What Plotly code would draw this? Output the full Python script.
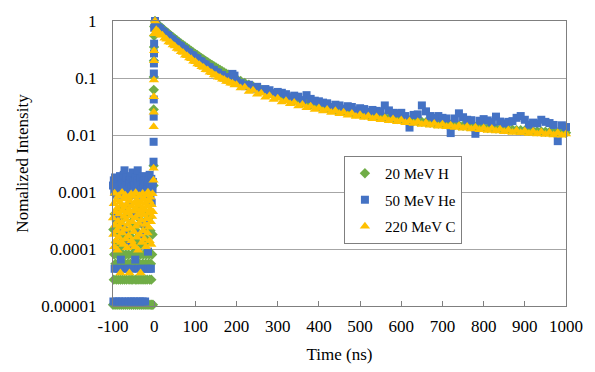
import plotly.graph_objects as go

# ---------------- data ----------------
# time grids (ns)
t_pre = list(range(-100, -2))                          # -100 ... -3, 1 ns steps
t_rise = [-1.6, -1.4, -1.2, -1.0, -0.8, -0.6, -0.4, -0.2, 0.0]
t_peak = [2]
t_tail = list(range(5, 201, 5)) + list(range(210, 1001, 10))

# 20 MeV H (green diamonds)
h_pre = [1.05e-5, 0.00022, 2.9e-5, 8e-5, 0.00041, 1.05e-5, 5.5e-5, 0.00013, 2.9e-5, 0.00031,
         1.05e-5, 8e-5, 0.00018, 2.9e-5, 5.5e-5, 1.05e-5, 0.00047, 8e-5, 2.9e-5, 0.00011,
         1.05e-5, 0.00026, 5.5e-5, 2.9e-5, 8e-5, 1.05e-5, 0.00015, 0.00036, 2.9e-5, 5.5e-5,
         1.05e-5, 8e-5, 0.00021, 2.9e-5, 0.00012, 1.05e-5, 5.5e-5, 0.00044, 8e-5, 2.9e-5,
         1.05e-5, 0.00017, 5.5e-5, 0.00029, 2.9e-5, 1.05e-5, 8e-5, 0.00011, 2.9e-5, 0.00038,
         1.05e-5, 5.5e-5, 8e-5, 0.00024, 2.9e-5, 1.05e-5, 0.00014, 5.5e-5, 2.9e-5, 0.00052,
         1.05e-5, 8e-5, 0.00019, 2.9e-5, 5.5e-5, 1.05e-5, 0.00033, 8e-5, 2.9e-5, 0.00012,
         1.05e-5, 0.00027, 5.5e-5, 2.9e-5, 8e-5, 1.05e-5, 0.00016, 0.00045, 2.9e-5, 5.5e-5,
         1.05e-5, 8e-5, 0.00023, 2.9e-5, 0.00013, 1.05e-5, 5.5e-5, 0.00035, 8e-5, 2.9e-5,
         1.05e-5, 0.00021, 5.5e-5, 2.9e-5, 1.05e-5, 8e-5, 0.00018, 1.05e-5]
h_rise = [0.0013, 0.0029, 0.028, 0.062, 0.104, 0.2, 0.35, 0.55, 0.8]
h_peak = [1.0]
h_tail = [0.92, 0.85, 0.79, 0.74, 0.69, 0.645, 0.60, 0.56, 0.525, 0.49,
          0.46, 0.43, 0.405, 0.38, 0.357, 0.336, 0.316, 0.298, 0.281, 0.265,
          0.25, 0.236, 0.223, 0.211, 0.2, 0.189, 0.179, 0.17, 0.161, 0.153,
          0.145, 0.138, 0.131, 0.125, 0.119, 0.114, 0.109, 0.104, 0.1, 0.096,
          0.089, 0.082, 0.076, 0.071, 0.066, 0.062, 0.058, 0.055, 0.052, 0.049,
          0.0465, 0.0443, 0.0423, 0.0404, 0.0387, 0.0371, 0.0356, 0.0343, 0.033, 0.0318,
          0.0307, 0.0297, 0.0287, 0.0278, 0.027, 0.0262, 0.0255, 0.0248, 0.0241, 0.0235,
          0.0229, 0.0223, 0.0218, 0.0213, 0.0208, 0.0203, 0.0199, 0.0195, 0.0191, 0.0187,
          0.0183, 0.018, 0.0176, 0.0173, 0.017, 0.0167, 0.0164, 0.0161, 0.0159, 0.0156,
          0.0154, 0.0151, 0.0149, 0.0147, 0.0145, 0.0143, 0.0141, 0.0139, 0.0137, 0.0135,
          0.0133, 0.0132, 0.013, 0.0128, 0.0127, 0.0125, 0.0124, 0.0122, 0.0121, 0.012,
          0.0118, 0.0117, 0.0116, 0.0115, 0.0114, 0.0113, 0.0112, 0.0111, 0.011, 0.0109]

# 50 MeV He (blue squares)
he_pre = [0.0013, 1.2e-5, 0.0016, 0.0010, 4.5e-5, 0.0018, 0.0011, 0.0014, 1.2e-5, 0.0009,
          0.0015, 0.00035, 0.0012, 4.5e-5, 0.0017, 1.2e-5, 0.0010, 0.0019, 0.0013, 6.5e-5,
          0.0011, 0.0016, 1.2e-5, 0.0014, 0.0009, 0.00022, 0.0020, 4.5e-5, 0.0024, 0.0012,
          1.2e-5, 0.0015, 0.0010, 0.0018, 0.00055, 0.0013, 4.5e-5, 0.0011, 1.2e-5, 0.0016,
          0.0009, 0.0014, 0.00012, 0.0019, 1.2e-5, 0.0012, 4.5e-5, 0.0017, 0.0022, 0.0010,
          0.0015, 1.2e-5, 0.0011, 0.0013, 6.5e-5, 0.0018, 0.0009, 0.00042, 1.2e-5, 0.0016,
          0.0024, 0.0012, 4.5e-5, 0.0014, 0.0010, 1.2e-5, 0.0017, 0.00018, 0.0013, 0.0011,
          4.5e-5, 0.0019, 1.2e-5, 0.0015, 0.0009, 0.0012, 0.00028, 0.0016, 1.2e-5, 0.0014,
          0.0010, 4.5e-5, 0.0018, 0.0013, 0.0011, 9e-5, 0.0016, 4.5e-5, 0.0012, 0.0020,
          0.0014, 0.0009, 4.5e-5, 0.0017, 0.00065, 0.0013, 0.0011, 0.0015]
he_rise = [0.0034, 0.0076, 0.021, 0.042, 0.12, 0.18, 0.27, 0.40, 0.76]
he_peak = [1.0]
he_tail = [0.86, 0.77, 0.73, 0.66, 0.63, 0.57, 0.545, 0.49, 0.47, 0.43,
           0.41, 0.375, 0.36, 0.328, 0.316, 0.288, 0.279, 0.253, 0.247, 0.225,
           0.218, 0.199, 0.194, 0.177, 0.172, 0.157, 0.154, 0.14, 0.138, 0.126,
           0.124, 0.113, 0.112, 0.103, 0.101, 0.095, 0.104, 0.118, 0.11, 0.088,
           0.081, 0.072, 0.076, 0.065, 0.07, 0.06, 0.064, 0.061, 0.054, 0.057,
           0.055, 0.052, 0.046, 0.049, 0.047, 0.041, 0.050, 0.043, 0.040, 0.039,
           0.037, 0.036, 0.031, 0.034, 0.033, 0.029, 0.032, 0.031, 0.027, 0.0295,
           0.0285, 0.0255, 0.0275, 0.0265, 0.026, 0.033, 0.027, 0.0245, 0.024, 0.0245,
           0.0215, 0.0135, 0.0225, 0.023, 0.033, 0.026, 0.0215, 0.020, 0.0215, 0.020,
           0.0195, 0.0108, 0.0195, 0.024, 0.0205, 0.0185, 0.0182, 0.0105, 0.0178, 0.019,
           0.018, 0.0168, 0.021, 0.0172, 0.016, 0.017, 0.0175, 0.020, 0.0215, 0.0185,
           0.0152, 0.0165, 0.016, 0.0185, 0.017, 0.0162, 0.015, 0.0078, 0.0148, 0.0138]

# 220 MeV C (yellow triangles)
c_pre = [0.00035, 0.00018, 0.00062, 0.00011, 0.00095, 0.00026, 0.00045, 0.00014, 0.00072, 0.00021,
         0.00052, 0.000095, 0.00031, 0.00085, 0.00016, 0.00041, 0.00024, 0.00066, 3.8e-5, 0.00013,
         0.00058, 0.00029, 0.00098, 0.00019, 0.00047, 0.00012, 0.00037, 0.00075, 0.00022, 0.00054,
         0.00088, 0.00015, 0.00033, 0.00061, 0.000105, 0.00043, 0.00027, 0.00079, 0.00017, 0.00049,
         3.8e-5, 0.00069, 0.00023, 0.00038, 0.00092, 0.00014, 0.00056, 0.00030, 0.00012, 0.00083,
         0.00046, 0.00020, 0.00064, 0.00011, 0.00035, 0.00097, 0.00025, 0.00051, 0.00016, 0.00072,
         0.00039, 0.000095, 0.00059, 0.00028, 0.00086, 0.00018, 0.00044, 3.8e-5, 0.00067, 0.00032,
         0.00013, 0.00053, 0.00094, 0.00021, 0.00040, 0.00076, 0.00015, 0.00048, 0.00027, 0.00063,
         0.00011, 0.00089, 0.00034, 0.00057, 0.00019, 0.00099, 0.00042, 0.00024, 0.00070, 0.00014,
         0.00050, 0.00081, 0.00030, 0.00012, 0.00060, 0.00037, 0.00093, 0.00045]
c_rise = [0.0016, 0.0026, 0.014, 0.025, 0.047, 0.092, 0.2, 0.30, 0.6]
c_peak = [1.0]
c_tail = [0.70, 0.65, 0.57, 0.56, 0.50, 0.48, 0.43, 0.42, 0.38, 0.365,
          0.33, 0.32, 0.29, 0.28, 0.25, 0.245, 0.225, 0.218, 0.197, 0.192,
          0.176, 0.171, 0.157, 0.153, 0.14, 0.138, 0.126, 0.124, 0.113, 0.112,
          0.103, 0.102, 0.095, 0.094, 0.087, 0.087, 0.081, 0.081, 0.075, 0.076,
          0.067, 0.069, 0.058, 0.061, 0.052, 0.054, 0.046, 0.049, 0.042, 0.044,
          0.038, 0.040, 0.0355, 0.037, 0.0322, 0.0342, 0.0301, 0.0318, 0.0281, 0.0297,
          0.0264, 0.0281, 0.0249, 0.0266, 0.0236, 0.0251, 0.0223, 0.0238, 0.0212, 0.0226,
          0.0203, 0.0216, 0.0193, 0.0207, 0.0185, 0.0198, 0.0178, 0.019, 0.017, 0.0183,
          0.0164, 0.0176, 0.0159, 0.017, 0.0153, 0.0164, 0.0148, 0.0159, 0.0143, 0.0154,
          0.0139, 0.0149, 0.0135, 0.0145, 0.0131, 0.0141, 0.0127, 0.0137, 0.0124, 0.0133,
          0.012, 0.013, 0.0117, 0.0126, 0.0114, 0.0123, 0.0111, 0.012, 0.0109, 0.0117,
          0.0106, 0.0115, 0.0104, 0.0113, 0.0102, 0.0111, 0.01, 0.0109, 0.0099, 0.0104]

series_names = ["20 MeV H", "50 MeV He", "220 MeV C"]
x_tickvals = [-100, 0, 100, 200, 300, 400, 500, 600, 700, 800, 900, 1000]
x_ticktext = ["-100", "0", "100", "200", "300", "400", "500", "600", "700", "800", "900", "1000"]
y_tickvals = [1e-5, 1e-4, 1e-3, 1e-2, 1e-1, 1]
y_ticktext = ["0.00001", "0.0001", "0.001", "0.01", "0.1", "1"]

# ---------------- figure ----------------
FONT = "Liberation Serif"
t_all = t_pre + t_rise + t_peak + t_tail
series = [
    (series_names[0], h_pre + h_rise + h_peak + h_tail, "#70AD47", "diamond", 8),
    (series_names[1], he_pre + he_rise + he_peak + he_tail, "#4472C4", "square", 8),
    (series_names[2], c_pre + c_rise + c_peak + c_tail, "#FFC000", "triangle-up", 9),
]

fig = go.Figure()
for i, (name, vals, col, sym, sz) in enumerate(series):
    fig.add_trace(go.Scatter(
        x=t_all, y=vals, mode="markers", name=name,
        legendgroup=f"g{i}",
        marker=dict(symbol=sym, color=col, size=sz, line=dict(width=0)),
        cliponaxis=False,
    ))

fig.update_layout(
    width=595, height=372,
    margin=dict(l=113, r=24, t=20, b=62),
    paper_bgcolor="white", plot_bgcolor="white",
    font=dict(family=FONT, size=16, color="#000000"),
    showlegend=True,
    legend=dict(
        x=0.64, y=0.372, xanchor="center", yanchor="middle",
        bgcolor="white", bordercolor="#7F7F7F", borderwidth=1,
        font=dict(family=FONT, size=15, color="#000000"),
        traceorder="grouped", tracegroupgap=4,
        itemwidth=30,
    ),
    xaxis=dict(
        range=[-100, 1000], tickmode="array", tickvals=x_tickvals, ticktext=x_ticktext,
        ticks="inside", ticklen=5, tickcolor="#7F7F7F",
        showgrid=False, zeroline=False,
        showline=True, linecolor="#7F7F7F", linewidth=1, mirror=True,
        tickfont=dict(family=FONT, size=17), ticklabelstandoff=5,
        title=dict(text="Time (ns)", font=dict(family=FONT, size=17), standoff=12),
    ),
    yaxis=dict(
        type="log", range=[-5, 0], tickmode="array",
        tickvals=y_tickvals, ticktext=y_ticktext,
        showgrid=True, gridcolor="#A6A6A6", gridwidth=1,
        zeroline=False, ticks="",
        showline=True, linecolor="#7F7F7F", linewidth=1, mirror=True,
        tickfont=dict(family=FONT, size=17), ticklabelstandoff=12,
        title=dict(text="Nomalized Intensity", font=dict(family=FONT, size=17), standoff=8),
    ),
)

fig.write_html("out.html", config={"displayModeBar": False},
               post_script="document.body.style.margin='0px';")
